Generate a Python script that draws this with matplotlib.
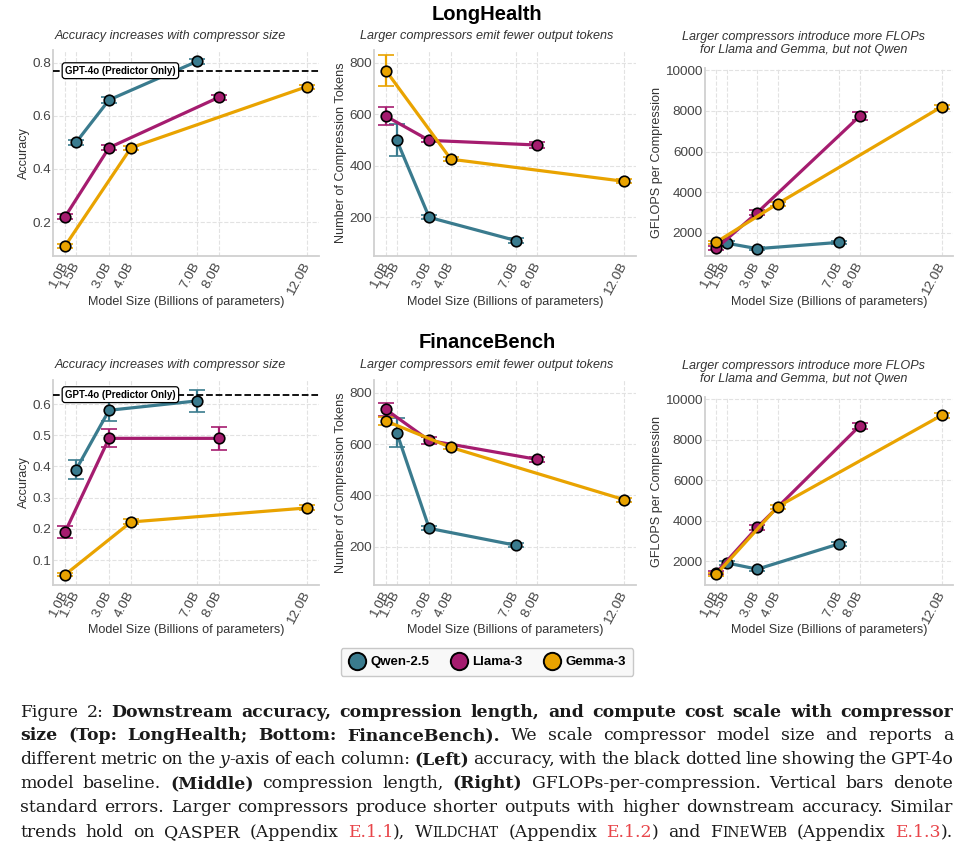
import matplotlib
matplotlib.use('Agg')
import matplotlib.pyplot as plt
from matplotlib.lines import Line2D

plt.rcParams['font.family'] = ['Liberation Sans', 'DejaVu Sans']

W, H = 971, 849

# ---------------- data ----------------
families = ['Qwen-2.5', 'Llama-3', 'Gemma-3']
family_colors = ['#3a7b8e', '#a51c6f', '#e9a300']
sizes = {'Qwen-2.5': [1.5, 3.0, 7.0], 'Llama-3': [1.0, 3.0, 8.0], 'Gemma-3': [1.0, 4.0, 12.0]}
xtick_values = [1.0, 1.5, 3.0, 4.0, 7.0, 8.0, 12.0]
xtick_labels = ['1.0B', '1.5B', '3.0B', '4.0B', '7.0B', '8.0B', '12.0B']

# LongHealth
lh_acc = {'Qwen-2.5': [0.50, 0.66, 0.805], 'Llama-3': [0.22, 0.48, 0.67], 'Gemma-3': [0.11, 0.48, 0.71]}
lh_acc_err = {'Qwen-2.5': [0.01, 0.01, 0.01], 'Llama-3': [0.01, 0.01, 0.01], 'Gemma-3': [0.006, 0.008, 0.008]}
lh_tokens = {'Qwen-2.5': [500, 200, 110], 'Llama-3': [593, 499, 481], 'Gemma-3': [770, 426, 340]}
lh_tokens_err = {'Qwen-2.5': [62, 8, 8], 'Llama-3': [35, 8, 12], 'Gemma-3': [60, 8, 8]}
lh_gflops = {'Qwen-2.5': [1500, 1230, 1540], 'Llama-3': [1250, 3000, 7740], 'Gemma-3': [1550, 3440, 8200]}
lh_gflops_err = {'Qwen-2.5': [90, 70, 70], 'Llama-3': [90, 110, 200], 'Gemma-3': [80, 100, 100]}
lh_gpt4o = 0.77

# FinanceBench
fb_acc = {'Qwen-2.5': [0.39, 0.58, 0.61], 'Llama-3': [0.19, 0.49, 0.49], 'Gemma-3': [0.053, 0.222, 0.267]}
fb_acc_err = {'Qwen-2.5': [0.03, 0.036, 0.036], 'Llama-3': [0.018, 0.029, 0.036], 'Gemma-3': [0.005, 0.008, 0.008]}
fb_tokens = {'Qwen-2.5': [645, 271, 205], 'Llama-3': [735, 614, 540], 'Gemma-3': [690, 587, 383]}
fb_tokens_err = {'Qwen-2.5': [55, 8, 8], 'Llama-3': [25, 12, 10], 'Gemma-3': [16, 8, 8]}
fb_gflops = {'Qwen-2.5': [1930, 1620, 2870], 'Llama-3': [1450, 3680, 8680], 'Gemma-3': [1360, 4700, 9200]}
fb_gflops_err = {'Qwen-2.5': [90, 70, 100], 'Llama-3': [80, 110, 150], 'Gemma-3': [80, 100, 130]}
fb_gpt4o = 0.63

subtitles = ['Accuracy increases with compressor size',
             'Larger compressors emit fewer output tokens',
             'Larger compressors introduce more FLOPs\nfor Llama and Gemma, but not Qwen']
ylabels = ['Accuracy', 'Number of Compression Tokens', 'GFLOPS per Compression']
xlabel = 'Model Size (Billions of parameters)'
row_titles = ['LongHealth', 'FinanceBench']

# ---------------- layout helpers ----------------
fig = plt.figure(figsize=(W / 100, H / 100), dpi=100, facecolor='white')


def add_ax(l, t, r, b):
    return fig.add_axes([l / W, 1 - b / H, (r - l) / W, (b - t) / H])


def fx(px):
    return px / W


def fy(py):
    return 1 - py / H


def style_ax(ax):
    ax.set_facecolor('white')
    for s in ['top', 'right']:
        ax.spines[s].set_visible(False)
    for s in ['left', 'bottom']:
        ax.spines[s].set_color('#d0d0d0')
        ax.spines[s].set_linewidth(1.3)
    ax.grid(True, linestyle='--', color='#e2e2e2', linewidth=0.8)
    ax.set_axisbelow(True)
    ax.tick_params(length=0, labelsize=9.7, labelcolor='#444444', pad=1.5)
    ax.set_xticks(xtick_values)
    ax.set_xticklabels(xtick_labels, rotation=62, ha='right', va='center',
                       rotation_mode='anchor')
    ax.tick_params(axis='x', pad=5)
    ax.set_xlim(0.45, 12.55)


def plot_metric(ax, vals, errs):
    for fam, col in zip(families, family_colors):
        ax.errorbar(sizes[fam], vals[fam], yerr=errs[fam], color=col, lw=2.3,
                    marker='o', ms=7.6, mfc=col, mec='black', mew=1.2,
                    capsize=6, capthick=1.6, elinewidth=1.6, zorder=3)


rows = [
    dict(top=50, bottom=256, rtop=68, acc=lh_acc, acc_err=lh_acc_err, tok=lh_tokens,
         tok_err=lh_tokens_err, gf=lh_gflops, gf_err=lh_gflops_err, gpt=lh_gpt4o,
         acc_ylim=(0.072, 0.848), acc_ticks=[0.2, 0.4, 0.6, 0.8],
         gf_ylim=(870, 10100), title_y=15, sub_y=36, sub_y_r=43.5, xl_y=302),
    dict(top=380, bottom=585, rtop=397, acc=fb_acc, acc_err=fb_acc_err, tok=fb_tokens,
         tok_err=fb_tokens_err, gf=fb_gflops, gf_err=fb_gflops_err, gpt=fb_gpt4o,
         acc_ylim=(0.02, 0.677), acc_ticks=[0.1, 0.2, 0.3, 0.4, 0.5, 0.6],
         gf_ylim=(840, 10100), title_y=343, sub_y=365, sub_y_r=372.5, xl_y=630),
]

col_lr = [(53, 319), (374, 636), (705, 953)]
ylabel_x = [24, 341, 657]
sub_x = [170, 487, 804]

for ri, row in enumerate(rows):
    axes = [add_ax(col_lr[0][0], row['top'], col_lr[0][1], row['bottom']),
            add_ax(col_lr[1][0], row['top'], col_lr[1][1], row['bottom']),
            add_ax(col_lr[2][0], row['rtop'], col_lr[2][1], row['bottom'])]
    for ax in axes:
        style_ax(ax)

    # accuracy
    a = axes[0]
    plot_metric(a, row['acc'], row['acc_err'])
    a.axhline(row['gpt'], color='black', ls='--', lw=1.3, zorder=4)
    a.text(1.0, row['gpt'], 'GPT-4o (Predictor Only)', fontsize=7, weight='bold',
           ha='left', va='center', zorder=10,
           bbox=dict(boxstyle='round,pad=0.3', fc='white', ec='black', lw=0.9))
    a.set_ylim(*row['acc_ylim'])
    a.set_yticks(row['acc_ticks'])
    a.set_yticklabels([f'{v:.1f}' for v in row['acc_ticks']])

    # tokens
    b = axes[1]
    plot_metric(b, row['tok'], row['tok_err'])
    b.set_ylim(50, 850)
    b.set_yticks([200, 400, 600, 800])

    # gflops
    c = axes[2]
    plot_metric(c, row['gf'], row['gf_err'])
    c.set_ylim(*row['gf_ylim'])
    c.set_yticks([2000, 4000, 6000, 8000, 10000])

    for ci, ax in enumerate(axes):
        l, r = col_lr[ci]
        t = row['rtop'] if ci == 2 else row['top']
        bt = row['bottom']
        ax.set_ylabel(ylabels[ci], fontsize=9.1, color='#333333', va='center')
        ax.yaxis.set_label_coords((ylabel_x[ci] - l) / (r - l), 0.5)
        ax.set_xlabel(xlabel, fontsize=9.1, color='#333333', va='center')
        ax.xaxis.set_label_coords(0.5, -(row['xl_y'] - bt) / (bt - t))
        sy = row['sub_y_r'] if ci == 2 else row['sub_y']
        fig.text(fx(sub_x[ci]), fy(sy), subtitles[ci], fontsize=9.1, style='italic',
                 color='#333333', ha='center', va='center', linespacing=1.1)

    fig.text(fx(487), fy(row['title_y']), row_titles[ri], fontsize=14.5, weight='bold',
             ha='center', va='center', color='black')

# legend
handles = [Line2D([], [], ls='none', marker='o', ms=12.5, mfc=c, mec='black', mew=1.4)
           for c in family_colors]
leg = fig.legend(handles, families, loc='center', bbox_to_anchor=(fx(487), fy(662)),
                 ncol=3, frameon=True, fancybox=True, edgecolor='#c8c8c8',
                 facecolor='#f8f8f8', framealpha=1,
                 prop=dict(weight='bold', size=9.5), handletextpad=0.35,
                 columnspacing=1.6, borderpad=0.6, handlelength=1.3)

# ---------------- caption ----------------
caption_lines = [
    [("Figure 2: ", 'r'), ("Downstream accuracy, compression length, and compute cost scale with compressor", 'b')],
    [("size (Top: LongHealth; Bottom: FinanceBench).", 'b'), (" We scale compressor model size and reports a", 'r')],
    [("different metric on the ", 'r'), ("y", 'i'), ("-axis of each column: ", 'r'), ("(Left)", 'b'),
     (" accuracy, with the black dotted line showing the GPT-4o", 'r')],
    [("model baseline. ", 'r'), ("(Middle)", 'b'), (" compression length, ", 'r'), ("(Right)", 'b'),
     (" GFLOPs-per-compression. Vertical bars denote", 'r')],
    [("standard errors. Larger compressors produce shorter outputs with higher downstream accuracy. Similar", 'r')],
    [("trends hold on QASPER (Appendix ", 'r'), ("E.1.1", 'red'), ("), ", 'r'), ("W", 'r'), ("ILDCHAT", 'sc'),
     (" (Appendix ", 'r'), ("E.1.2", 'red'), (") and ", 'r'), ("F", 'r'), ("INE", 'sc'), ("W", 'r'),
     ("EB", 'sc'), (" (Appendix ", 'r'), ("E.1.3", 'red'), (").", 'r')],
]
caption_baselines = [717, 740, 764, 788, 812, 837]
cap_x0, cap_x1 = 20, 953


def style_props(st, size):
    p = dict(family='DejaVu Serif', size=size, color='#1a1a1a')
    if st == 'b':
        p['weight'] = 'bold'
    elif st == 'i':
        p['style'] = 'italic'
    elif st == 'red':
        p['color'] = '#e8454a'
    elif st == 'sc':
        p['size'] = size * 0.8
    return p


def to_words(segs):
    words = [[]]
    for text, st in segs:
        parts = text.split(' ')
        for i, p in enumerate(parts):
            if i > 0 and words[-1]:
                words.append([])
            if p:
                words[-1].append((p, st))
    if not words[-1]:
        words.pop()
    return words


renderer = fig.canvas.get_renderer()


def measure(t, props):
    tx = fig.text(0, 0, t, **props)
    w = tx.get_window_extent(renderer).width
    tx.remove()
    return w


def line_metrics(words, size):
    return [[measure(t, style_props(st, size)) for t, st in w] for w in words]


base = 13.2
space_w = measure('a a', style_props('r', base)) - measure('aa', style_props('r', base))
ratio = 1.0
for segs in caption_lines:
    words = to_words(segs)
    ws = line_metrics(words, base)
    nat = sum(sum(w) for w in ws) + space_w * 0.75 * (len(words) - 1)
    ratio = max(ratio, nat / (cap_x1 - cap_x0))
size = base / ratio

for segs, yb in zip(caption_lines, caption_baselines):
    words = to_words(segs)
    ws = line_metrics(words, size)
    total = sum(sum(w) for w in ws)
    gap = (cap_x1 - cap_x0 - total) / max(1, len(words) - 1)
    x = cap_x0
    for w, wl in zip(words, ws):
        xx = x
        for (t, st), pw in zip(w, wl):
            fig.text(fx(xx), fy(yb), t, ha='left', va='baseline', **style_props(st, size))
            xx += pw
        x = xx + gap

fig.savefig('out.png', dpi=100, facecolor='white')
